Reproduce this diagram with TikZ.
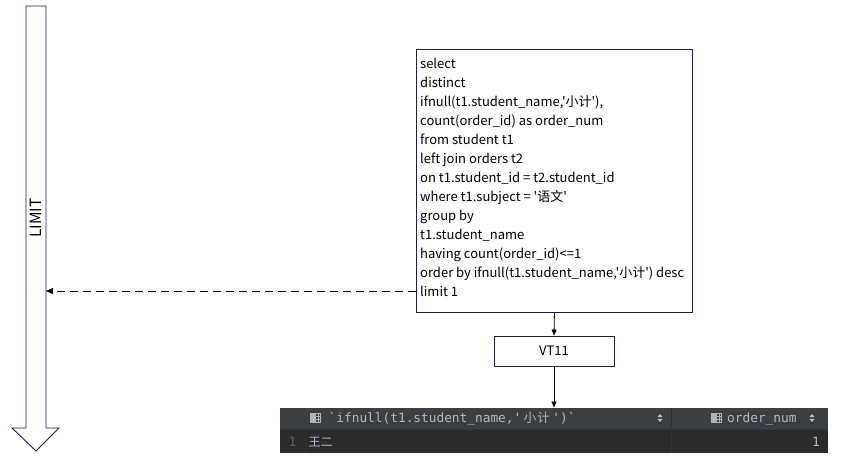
\documentclass[tikz,border=0pt]{standalone}
\usepackage{fontspec}
\newfontfamily\sqlfont{Noto Sans CJK SC}
\newfontfamily\cjk{Noto Sans CJK SC}
\newfontfamily\mono{DejaVu Sans Mono}
\usetikzlibrary{arrows.meta}
\definecolor{navy}{RGB}{28,30,80}
\definecolor{hdrbg}{RGB}{60,63,65}
\definecolor{rowbg}{RGB}{43,43,43}
\definecolor{gridc}{RGB}{50,50,50}
\definecolor{sepc}{RGB}{52,54,56}
\definecolor{celltxt}{RGB}{169,183,198}
\definecolor{numtxt}{RGB}{96,99,102}
\definecolor{icong}{RGB}{175,177,179}
\tikzset{
  boxstyle/.style={draw=navy, line width=0.9pt, fill=white, inner sep=0pt},
  sqltxt/.style={font=\sqlfont\fontsize{13}{19}\selectfont, align=left, inner sep=0pt, anchor=north west},
  conn/.style={draw=black, line width=0.8pt, -{Triangle[length=6pt,width=5pt]}},
  dconn/.style={draw=black, line width=0.8pt, dash pattern=on 8pt off 5pt, -{Triangle[length=7pt,width=6pt]}},
  cell/.style={font=\mono\fontsize{12.8}{14}\selectfont, text=celltxt, inner sep=0pt, anchor=base west},
  tblicon/.pic={
    \fill[icong] (0,0) rectangle (4.5,10);
    \draw[icong, line width=0.7pt] (5,0.35) rectangle (10.6,9.65);
    \draw[icong, line width=0.6pt] (5,3.4) -- (10.6,3.4) (5,6.6) -- (10.6,6.6) (7.8,0.35) -- (7.8,9.65);
  },
  sorticon/.pic={
    \fill[icong!80] (-2.5,-1) -- (2.5,-1) -- (0,-4) -- cycle;
    \fill[icong!80] (-2.5,1) -- (2.5,1) -- (0,4) -- cycle;
  }
}
\begin{document}
\begin{tikzpicture}[x=1pt,y=-1pt]
\useasboundingbox (0,0) rectangle (846,464);
% big LIMIT arrow
\draw[navy, line width=0.9pt, fill=white, line join=miter]
  (26,6) -- (46,6) -- (46,428) -- (59,428) -- (36,451) -- (12,428) -- (26,428) -- cycle;
\node[font=\sqlfont\fontsize{15.5}{17}\selectfont, rotate=90, inner sep=0pt] (limit) at (36,218) {LIMIT};
\coordinate (limin) at (46,291);
% SQL box
\node[boxstyle, anchor=north west, minimum width=276pt, minimum height=263pt] (sql) at (416,49) {};
\node[sqltxt] (sqltext) at (420,58) {select\\
distinct\\
ifnull(t1.student\_name,'小计'),\\
count(order\_id) as order\_num\\
from student t1\\
left join orders t2\\
on t1.student\_id = t2.student\_id\\
where t1.subject = '语文'\\
group by\\
t1.student\_name\\
having count(order\_id)<=1\\
order by ifnull(t1.student\_name,'小计') desc\\
limit 1};
% VT11 box
\node[boxstyle, minimum width=120pt, minimum height=30pt, font=\sqlfont\fontsize{13}{14}\selectfont] (vt) at (554,351) {VT11};
% result table
\node[fill=hdrbg, inner sep=0pt, anchor=north west, minimum width=548pt, minimum height=22pt] (tbl) at (280,407.5) {};
\node[fill=rowbg, inner sep=0pt, anchor=north west, minimum width=548pt, minimum height=23.5pt] (row) at (280,429.5) {};
\draw[gridc, line width=0.8pt] (305,429.5) -- (305,453);
\draw[gridc, line width=0.8pt] (671,407.5) -- (671,453);
\draw[sepc, line width=0.6pt] (280,429.5) -- (828,429.5);
\pic at (310,413) {tblicon};
\node[cell] (h1) at (328.5,422) {`ifnull(t1.student\_name,'\hspace{2.5pt}{\cjk\fontsize{12.5}{14}\selectfont 小\hspace{1pt}计}\hspace{2.5pt}')`};
\pic at (660,418) {sorticon};
\pic at (711,413) {tblicon};
\node[cell] (h2) at (727,422) {order\_num};
\pic at (812,418) {sorticon};
\node[cell, text=numtxt] (n1) at (288.5,446.5) {1};
\node[cell, font=\cjk\fontsize{12}{14}\selectfont] (v1) at (308.5,446.5) {王二};
\node[cell, anchor=base east] (v2) at (820,446.5) {1};
% connectors
\draw[conn] (sql.south) -- (vt.north);
\draw[conn] (vt.south) -- (tbl.north -| vt.south);
\draw[dconn] (sql.west |- limin) -- (limin);
\end{tikzpicture}
\end{document}
